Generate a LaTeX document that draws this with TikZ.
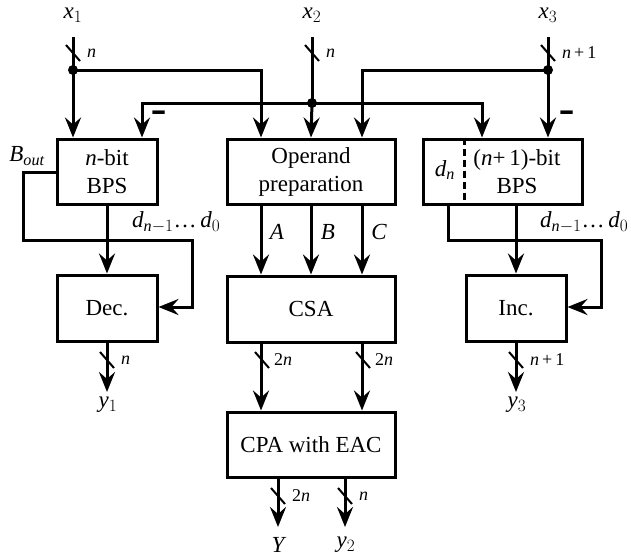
\documentclass[tikz,border=0pt]{standalone}
\usepackage{fontspec}
\setmainfont{Liberation Serif}
\usetikzlibrary{arrows.meta,calc}
\tikzset{
  wire/.style={line width=3pt},
  sig/.style={wire,-{Stealth[length=20pt,width=16pt,inset=7pt]}},
  blk/.style={draw,line width=3pt,minimum width=#1,minimum height=65pt,
    inner sep=0pt,align=center,font=\fontsize{23}{28}\selectfont},
  lbl/.style={inner sep=0pt,font=\fontsize{23}{28}\selectfont},
  bw/.style={inner sep=0pt,anchor=west,font=\fontsize{18}{20}\selectfont},
  jdot/.style={circle,fill,inner sep=0pt,minimum size=10pt},
  busslash/.pic={\draw[line width=2pt] (-7,-8) -- (7,8);}
}
\newcommand{\dbits}{$\mathit{d}_{\mathit{n}-1}$…\,$\mathit{d}_0$}
\newcommand{\minusbar}{\scalebox{1.15}[2.2]{\textbf{−}}}
\begin{document}
\begin{tikzpicture}[x=1pt,y=-1pt]
\useasboundingbox (0,0) rectangle (631,557);

% blocks
\node[blk=100pt] (bps1) at (107,171.5) {\textit{n}-bit\\BPS};
\node[blk=168pt] (op) at (311,171.5) {Operand\\preparation};
\node[blk=159pt] (bps3) at (502.5,171.5) {};
\node[lbl,align=center] (bps3t) at (517,172) {(\textit{n}+\,1)-bit\\BPS};
\node[lbl] (dn) at (445,170) {$\mathit{d}_{\mathit{n}}$};
\draw[wire,dash pattern=on 7pt off 4pt] (bps3.north -| 464,0) -- (bps3.south -| 464,0);
\node[blk=100pt,minimum height=66pt] (dec) at (107,308) {Dec.};
\node[blk=168pt,minimum height=66pt] (csa) at (311,309) {CSA};
\node[blk=100pt,minimum height=66pt] (inc) at (516,308) {Inc.};
\node[blk=168pt] (cpa) at (311,444.5) {CPA with EAC};

% inputs
\node[lbl] (x1) at (73,15) {$\mathit{x}_1$};
\node[lbl] (x2) at (312,15) {$\mathit{x}_2$};
\node[lbl] (x3) at (548,15) {$\mathit{x}_3$};
\coordinate (x1s) at (73,37);
\coordinate (x2s) at (312,37);
\coordinate (x3s) at (548,37);
\node[jdot] (j1) at (73,70) {};
\node[jdot] (j2) at (312,103) {};
\node[jdot] (j3) at (548,70) {};
\coordinate (hl) at (142,103);
\coordinate (hr) at (482,103);

\draw[wire] (x1s) -- (j1.center);
\draw[sig] (j1.center) -- (j1 |- bps1.north);
\draw[sig] (j1.center) -| (op.north -| 261,0);
\draw[wire] (x2s) -- (j2.center);
\draw[sig] (j2.center) -- (op.north);
\draw[sig] (j2.center) -- (hl) -- (bps1.north -| hl);
\draw[sig] (j2.center) -- (hr) -- (bps3.north -| hr);
\draw[wire] (x3s) -- (j3.center);
\draw[sig] (j3.center) -- (j3 |- bps3.north);
\draw[sig] (j3.center) -| (op.north -| 362,0);

\pic at (73,53) {busslash};
\pic at (312,53) {busslash};
\pic at (548,53) {busslash};
\node[bw] (nx1) at (87,53) {\textit{n}};
\node[bw] (nx2) at (326,53) {\textit{n}};
\node[bw] (nx3) at (562,53) {\textit{n}\,+\,1};

\node[lbl] (m1) at (159,120) {\minusbar};
\node[lbl] (m3) at (567,120) {\minusbar};

% left branch
\node[lbl] (bout) at (27,156) {$\mathit{B}_{\mathit{out}}$};
\coordinate (b1) at (23,172);
\coordinate (b2) at (23,240);
\coordinate (b3) at (192,240);
\coordinate (b4) at (192,307);
\draw[sig] (bps1.west |- b1) -- (b1) -- (b2) -- (b3) -- (b4) -- (dec.east |- b4);
\draw[sig] (bps1.south) -- (dec.north);
\node[lbl,anchor=west] (dl) at (132,222) {\dbits};

% right branch
\coordinate (r0) at (448,240);
\coordinate (r1) at (601,240);
\coordinate (r2) at (601,307);
\draw[sig] (bps3.south -| r0) -- (r0) -- (r1) -- (r2) -- (inc.east |- r2);
\draw[sig] (bps3.south -| inc.north) -- (inc.north);
\node[lbl,anchor=west] (dr) at (540,222) {\dbits};

% operand preparation to CSA
\draw[sig] (op.south -| 261,0) -- (csa.north -| 261,0);
\draw[sig] (op.south) -- (csa.north);
\draw[sig] (op.south -| 362,0) -- (csa.north -| 362,0);
\node[lbl] (la) at (277,232) {$\mathit{A}$};
\node[lbl] (lb) at (328,232) {$\mathit{B}$};
\node[lbl] (lc) at (379,232) {$\mathit{C}$};

% CSA to CPA
\draw[sig] (csa.south -| 261,0) -- (cpa.north -| 261,0);
\draw[sig] (csa.south -| 362,0) -- (cpa.north -| 362,0);
\pic at (262,360) {busslash};
\pic at (363,360) {busslash};
\node[bw] (c2a) at (274,360) {2\textit{n}};
\node[bw] (c2b) at (375,360) {2\textit{n}};

% outputs
\coordinate (oy1) at (107,392);
\coordinate (oy3) at (516,392);
\coordinate (oY) at (278,527);
\coordinate (oy2) at (345,527);
\draw[sig] (dec.south) -- (oy1);
\draw[sig] (inc.south) -- (oy3);
\draw[sig] (cpa.south -| oY) -- (oY);
\draw[sig] (cpa.south -| oy2) -- (oy2);
\pic at (107,360) {busslash};
\pic at (516,360) {busslash};
\pic at (278,496) {busslash};
\pic at (345,496) {busslash};
\node[bw] (ny1) at (121,360) {\textit{n}};
\node[bw] (ny3) at (530,360) {\textit{n}\,+\,1};
\node[bw] (nY) at (292,496) {2\textit{n}};
\node[bw] (ny2) at (359,496) {\textit{n}};
\node[lbl] (y1) at (108,405) {$\mathit{y}_1$};
\node[lbl] (y3) at (517,405) {$\mathit{y}_3$};
\node[lbl] (Y) at (278,545) {$\mathit{Y}$};
\node[lbl] (y2) at (346,545) {$\mathit{y}_2$};
\end{tikzpicture}
\end{document}
